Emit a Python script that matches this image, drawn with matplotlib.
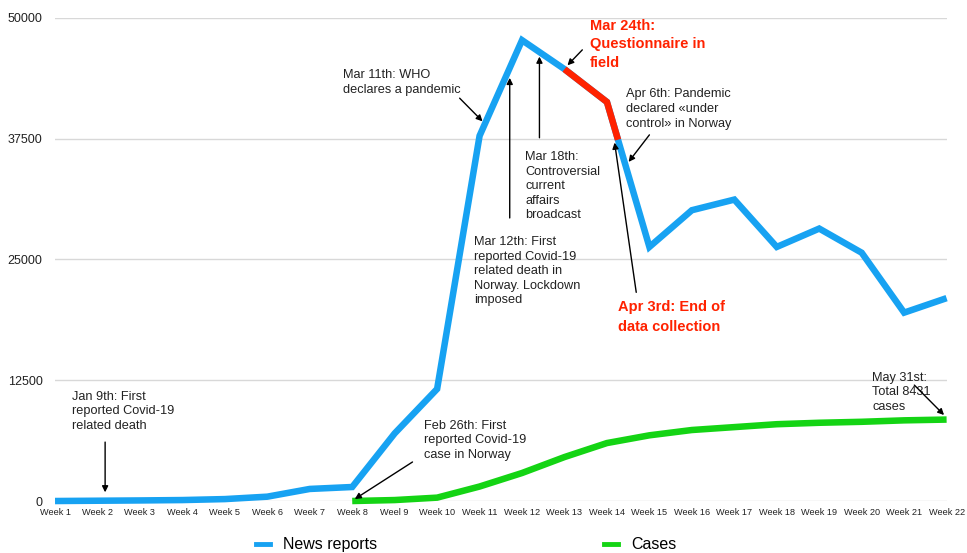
import numpy as np
import matplotlib
matplotlib.use('Agg')
import matplotlib.pyplot as plt
from matplotlib.lines import Line2D

plt.rcParams['font.family'] = ['Liberation Sans', 'DejaVu Sans']

# week labels (the original has the "Weel 9" typo)
week_labels = ['Week 1', 'Week 2', 'Week 3', 'Week 4', 'Week 5', 'Week 6', 'Week 7',
               'Week 8', 'Weel 9', 'Week 10', 'Week 11', 'Week 12', 'Week 13', 'Week 14',
               'Week 15', 'Week 16', 'Week 17', 'Week 18', 'Week 19', 'Week 20',
               'Week 21', 'Week 22']
weeks = np.arange(1, 23)

news_reports = [0, 30, 60, 100, 200, 450, 1250, 1450, 7000, 11600, 37800, 47700,
                44700, 41300, 26300, 30100, 31200, 26300, 28200, 25700, 19500, 21000]

case_weeks = np.arange(8, 23)
cases = [0, 100, 350, 1500, 2900, 4550, 6000, 6800, 7350, 7650, 7950, 8100,
         8200, 8350, 8431]

# questionnaire period: from week 13 to a bit past week 14
field_start = 13
field_end = 14.26

blue = '#17a2f2'
green = '#14d414'
red = '#ff2200'

fig = plt.figure(figsize=(9.67, 5.53), dpi=100)
ax = fig.add_axes([0.0569, 0.094, 0.922, 0.8735])

ax.plot(weeks, news_reports, color=blue, lw=4.7, solid_joinstyle='miter',
        solid_capstyle='butt', clip_on=False, zorder=3)
ax.plot(case_weeks, cases, color=green, lw=4.7, solid_joinstyle='miter',
        solid_capstyle='butt', clip_on=False, zorder=3)

# red part of the news line while the questionnaire was in field
seg_x = [field_start] + [w for w in weeks if field_start < w < field_end] + [field_end]
seg_y = np.interp(seg_x, weeks, news_reports)
ax.plot(seg_x, seg_y, color=red, lw=4.7, solid_joinstyle='miter',
        solid_capstyle='butt', zorder=4)

ax.set_xlim(1, 22)
ax.set_ylim(0, 50000)
ax.set_yticks([0, 12500, 25000, 37500, 50000])
ax.set_xticks(weeks)
ax.set_xticklabels(week_labels)
ax.grid(axis='y', color='#d8d8d8', lw=1)
ax.set_axisbelow(True)
for s in ax.spines.values():
    s.set_visible(False)
ax.tick_params(axis='y', length=0, pad=9, labelsize=9, labelcolor='#222222')
ax.tick_params(axis='x', length=0, pad=5, labelsize=6.6, labelcolor='#222222')

def note(text, txy, tail, head, color='#222222', bold=False, size=9.2, spacing=1.28):
    ax.text(txy[0], txy[1], text, color=color, fontsize=size, va='top', ha='left',
            fontweight='bold' if bold else 'normal', linespacing=spacing)
    ax.annotate('', xy=head, xytext=tail,
                arrowprops=dict(arrowstyle='-|>', color='black', lw=1,
                                mutation_scale=9, shrinkA=0, shrinkB=0))

note('Jan 9th: First\nreported Covid-19\nrelated death', (1.4, 11400), (2.18, 6100), (2.18, 900))
note('Feb 26th: First\nreported Covid-19\ncase in Norway', (9.68, 8400), (9.42, 4040), (8.06, 200))
note('Mar 11th: WHO\ndeclares a pandemic', (7.78, 44700), (10.53, 41700), (11.07, 39300))
note('Mar 12th: First\nreported Covid-19\nrelated death in\nNorway. Lockdown\nimposed',
     (10.86, 27400), (11.71, 29300), (11.71, 43800))
note('Mar 18th:\nControversial\ncurrent\naffairs\nbroadcast',
     (12.08, 36200), (12.41, 37600), (12.41, 46000))
note('Mar 24th:\nQuestionnaire in\nfield', (13.59, 49900), (13.42, 46700), (13.07, 45100),
     color=red, bold=True, size=10.5, spacing=1.4)
note('Apr 6th: Pandemic\ndeclared «under\ncontrol» in Norway', (14.44, 42700),
     (15.0, 37900), (14.51, 35100))
note('Apr 3rd: End of\ndata collection', (14.27, 20800), (14.69, 21600), (14.18, 37100),
     color=red, bold=True, size=10.5, spacing=1.5)
note('May 31st:\nTotal 8431\ncases', (20.25, 13400), (21.24, 12000), (21.94, 8900))

handles = [Line2D([], [], color=blue, lw=3.5), Line2D([], [], color=green, lw=3.5)]
fig.legend(handles, ['News reports', 'Cases'], loc='lower center', ncol=2,
           bbox_to_anchor=(0.482, -0.025), frameon=False, fontsize=11.5,
           handlelength=0.9, handletextpad=0.8, columnspacing=14.2)

fig.savefig('out.png', dpi=100)
